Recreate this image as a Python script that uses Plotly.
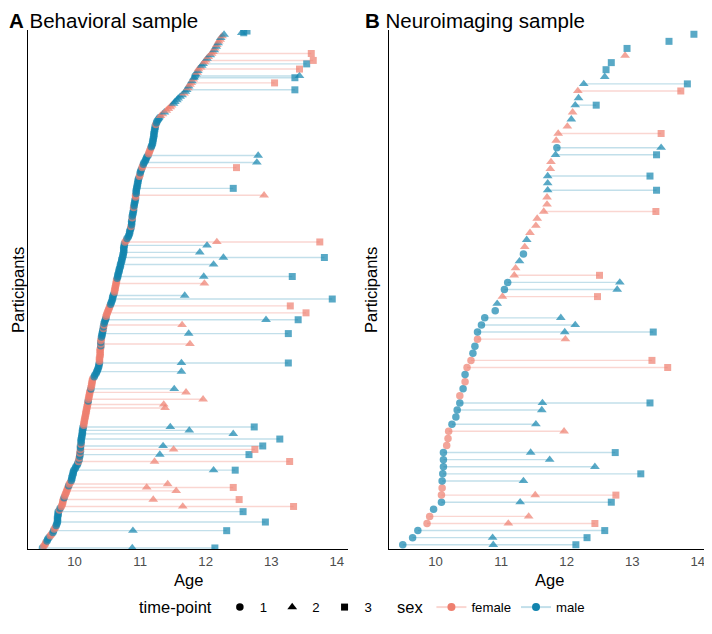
import plotly.graph_objects as go

# ---------------- colours ----------------
FEMALE = "#EE7F6F"
MALE = "#1284AE"
FEMALE_LINE = "rgba(238,127,111,0.32)"
MALE_LINE = "rgba(18,132,174,0.26)"
FONT = "Liberation Sans, Arial, sans-serif"

# ---------------- Panel A: behavioral sample ----------------
# first observed age per participant (sorted bottom -> top)
A_first_age = [
    9.51, 9.53, 9.55, 9.56, 9.58, 9.59, 9.61, 9.63, 9.65, 9.67,
    9.68, 9.69, 9.71, 9.72, 9.73, 9.74, 9.74, 9.74, 9.74, 9.75,
    9.75, 9.75, 9.77, 9.78, 9.80, 9.81, 9.82, 9.82, 9.83, 9.84,
    9.85, 9.86, 9.87, 9.88, 9.89, 9.90, 9.91, 9.92, 9.94, 9.95,
    9.96, 9.96, 9.97, 9.98, 9.98, 9.99, 10.01, 10.02, 10.04, 10.05,
    10.06, 10.07, 10.07, 10.08, 10.08, 10.08, 10.09, 10.09, 10.09, 10.09,
    10.10, 10.10, 10.10, 10.10, 10.11, 10.11, 10.12, 10.12, 10.12, 10.13,
    10.13, 10.14, 10.14, 10.15, 10.15, 10.16, 10.16, 10.17, 10.17, 10.18,
    10.18, 10.19, 10.19, 10.20, 10.20, 10.21, 10.21, 10.22, 10.22, 10.23,
    10.23, 10.24, 10.25, 10.25, 10.26, 10.26, 10.27, 10.27, 10.28, 10.30,
    10.31, 10.33, 10.34, 10.35, 10.36, 10.37, 10.37, 10.38, 10.38, 10.38,
    10.38, 10.39, 10.39, 10.39, 10.39, 10.39, 10.40, 10.40, 10.40, 10.40,
    10.40, 10.41, 10.41, 10.42, 10.42, 10.43, 10.43, 10.44, 10.44, 10.45,
    10.45, 10.46, 10.47, 10.48, 10.48, 10.49, 10.50, 10.51, 10.52, 10.53,
    10.54, 10.55, 10.56, 10.57, 10.58, 10.58, 10.59, 10.60, 10.61, 10.61,
    10.62, 10.62, 10.63, 10.63, 10.64, 10.64, 10.65, 10.66, 10.66, 10.67,
    10.68, 10.68, 10.69, 10.70, 10.70, 10.71, 10.72, 10.72, 10.73, 10.74,
    10.74, 10.75, 10.75, 10.75, 10.75, 10.76, 10.76, 10.77, 10.79, 10.80,
    10.82, 10.83, 10.84, 10.84, 10.85, 10.86, 10.86, 10.87, 10.87, 10.87,
    10.88, 10.88, 10.88, 10.89, 10.89, 10.90, 10.90, 10.90, 10.91, 10.91,
    10.92, 10.92, 10.93, 10.93, 10.93, 10.94, 10.94, 10.94, 10.95, 10.95,
    10.96, 10.96, 10.97, 10.97, 10.98, 10.99, 11.00, 11.00, 11.01, 11.02,
    11.03, 11.04, 11.05, 11.06, 11.08, 11.09, 11.10, 11.12, 11.13, 11.14,
    11.15, 11.16, 11.17, 11.18, 11.19, 11.19, 11.20, 11.20, 11.21, 11.21,
    11.21, 11.22, 11.22, 11.23, 11.23, 11.24, 11.25, 11.26, 11.28, 11.30,
    11.31, 11.34, 11.37, 11.40, 11.43, 11.46, 11.48, 11.51, 11.53, 11.56,
    11.58, 11.61, 11.64, 11.67, 11.69, 11.71, 11.73, 11.74, 11.76, 11.78,
    11.79, 11.81, 11.82, 11.84, 11.85, 11.87, 11.88, 11.89, 11.92, 11.94,
    11.96, 11.98, 12.00, 12.02, 12.04, 12.07, 12.09, 12.11, 12.13, 12.14,
    12.16, 12.17, 12.19, 12.20, 12.22, 12.23, 12.25, 12.28, 12.55, 12.63,
]
# time-point of the first observation (1, 2 or 3)
A_first_tp = (
    "11111111111111111111111111111111111111111111111111"
    "11111111111111111111111111111111111111111111111111"
    "11111111111111111111111111111111111111111111111111"
    "11111111111111111111111111111111111111111111111111"
    "11111111111111111111111111111111111111111111111111"
    "22222222222222222222222122222222222222222222222223"
)
# sex per participant: f = female, m = male
A_sex = (
    "mfffmmmffm" "mffmmmmmmm" "mmfmfffffm" "ffffffmffm" "mmmmmmmmmm"
    "fmfmmfmfmm" "fmmmmmmmmm" "mfffffffff" "fffffmffff" "ffmffffffm"
    "mmmmmmmmff" "fffffffmfm" "ffmmmmmfmf" "mmmmffffff" "fmmmmmmmff"
    "ffffffmmmm" "mmmmmmmmmm" "mmmmmmmffm" "mmmmmmfmmm" "mfmmmmmfmm"
    "mmmffmmmmm" "mmmmmffmmm" "ffmmmmmmff" "ffmmmmmmmm" "mmmmmfmmmm"
    "ffmffffmmm" "mmmfmmfmff" "mfmmmfmffm" "mffmfmffmf" "mfmffmfmmm"
)
# follow-up visits: participant row, age at time-point 2, age at time-point 3
A_fu_row = [0, 10, 15, 21, 24, 28, 33, 35, 37, 45, 50, 54, 57, 59, 63, 66, 68, 70,
            81, 83, 86, 90, 92, 102, 107, 118, 124, 129, 132, 136, 140, 144, 146,
            153, 157, 164, 168, 171, 175, 177, 204, 208, 220, 223, 227, 265, 269,
            272, 273, 277, 280, 282, 286, 298]
A_fu_t2 = [10.88, 10.89, None, None, 11.65, 11.20, 11.55, 11.10, 11.42, 12.12,
           11.22, 11.30, 11.51, 11.35, None, 12.42, 11.75, 11.46, 11.38, 11.36,
           11.96, 11.70, 11.52, 11.63, 11.63, 11.76, 11.74, 11.64, 12.92, None,
           None, None, 11.68, 11.98, 11.97, 12.12, 12.27, 11.91, 12.02, 12.17,
           12.89, None, None, 12.78, 12.80, None, None, None, 13.43, None,
           None, None, None, None]
A_fu_t3 = [12.14, 12.32, 12.91, 12.57, 13.34, 12.51, None, 12.42, None, 12.45,
           13.28, 12.66, 12.75, 12.87, 13.13, None, None, 12.74, None, None,
           None, None, None, None, 13.26, None, 13.26, None, 13.41, 13.53,
           13.29, 13.93, None, None, 13.32, None, 13.81, None, None, 13.74,
           None, 12.42, 12.47, None, None, 13.36, 13.05, 13.36, None, 13.43,
           13.54, 13.64, 13.61, 12.58]

# ---------------- Panel B: neuroimaging sample ----------------
B_first_age = [
    9.50, 9.65, 9.73, 9.87, 9.91, 9.97, 10.09, 10.09, 10.10, 10.10,
    10.11, 10.12, 10.12, 10.12, 10.17, 10.19, 10.20, 10.25, 10.31, 10.33,
    10.37, 10.37, 10.42, 10.45, 10.45, 10.48, 10.54, 10.57, 10.60, 10.64,
    10.64, 10.70, 10.75, 10.91, 10.94, 11.02, 11.05, 11.10, 11.20, 11.22,
    11.28, 11.34, 11.36, 11.39, 11.44, 11.53, 11.55, 11.65, 11.70, 11.70,
    11.71, 11.71, 11.71, 11.75, 11.76, 11.83, 11.85, 11.84, 11.87, 12.01,
    12.07, 12.09, 12.13, 12.18, 12.17, 12.26, 12.58, 12.60, 12.68, 12.89,
    12.92, 13.56, 13.94,
]
B_first_tp = ("1111111111111111111111111111111111" "22" "11" "222" "1"
              "22222222222222" "1" "2222222222" "33" "2" "333")
B_sex = ("mmmffmmffm" "mmmmfffmmm" "mfmfmffmmf" "mmmmmfmmff" "mmfmffffff"
         "mmmffmmfff" "mfmmfmmmmf" "mmm")
B_fu_row = [0, 1, 2, 3, 4, 6, 7, 9, 10, 11, 12, 13, 16, 17, 19, 20, 25, 26, 29, 30,
            31, 32, 35, 36, 37, 38, 47, 50, 52, 55, 56, 58, 62, 64, 65]
B_fu_t2 = [10.88, 10.87, None, 11.11, 11.42, 11.29, 11.52, 11.34, None, 12.43,
           11.74, 11.45, 11.96, 11.53, 11.62, 11.63, None, None, 11.98, 11.97,
           12.13, 11.91, None, 12.77, 12.81, None, None, None, None, None,
           13.44, None, None, None, None]
B_fu_t3 = [12.14, 12.31, 12.58, 12.43, None, 12.68, 12.75, None, 13.13, None,
           None, 12.74, None, None, None, 13.27, 13.54, 13.30, None, 13.32,
           None, None, 12.47, None, None, 12.50, 13.36, 13.37, 13.27, 13.37,
           None, 13.44, 12.45, 13.74, 13.84]

AGE_TICKS = [10, 11, 12, 13, 14]
TP_LABELS = ["1", "2", "3"]
SEX_LABELS = ["female", "male"]

SYMBOL = {1: "circle", 2: "triangle-up", 3: "square"}
SIZE = {1: 7.5, 2: 8.5, 3: 7}
COLOR = {"f": FEMALE, "m": MALE}
LINE_COLOR = {"f": FEMALE_LINE, "m": MALE_LINE}


def build_rows(first_age, first_tp, sex, fu_row, fu_t2, fu_t3):
    extra = {r: (a, b) for r, a, b in zip(fu_row, fu_t2, fu_t3)}
    rows = []
    for i, (age, tp, s) in enumerate(zip(first_age, first_tp, sex)):
        pts = [(int(tp), age)]
        if i in extra:
            t2, t3 = extra[i]
            if t2 is not None:
                pts.append((2, t2))
            if t3 is not None:
                pts.append((3, t3))
        rows.append((s, pts))
    return rows


def panel_traces(rows, xa, ya):
    traces = []
    for s in ("f", "m"):
        xs, ys = [], []
        for i, (sx, pts) in enumerate(rows):
            if sx == s and len(pts) > 1:
                ages = [p[1] for p in pts]
                xs += [min(ages), max(ages), None]
                ys += [i, i, None]
        traces.append(go.Scatter(x=xs, y=ys, mode="lines",
                                 line=dict(color=LINE_COLOR[s], width=1.4),
                                 xaxis=xa, yaxis=ya, showlegend=False,
                                 hoverinfo="skip"))
    mx, my, msym, mcol, msz = [], [], [], [], []
    for i, (sx, pts) in enumerate(rows):
        for tp, age in pts:
            mx.append(age)
            my.append(i)
            msym.append(SYMBOL[tp])
            mcol.append(COLOR[sx])
            msz.append(SIZE[tp])
    traces.append(go.Scatter(x=mx, y=my, mode="markers",
                             marker=dict(symbol=msym, color=mcol, size=msz,
                                         line=dict(width=0)),
                             xaxis=xa, yaxis=ya, showlegend=False))
    return traces


rows_A = build_rows(A_first_age, A_first_tp, A_sex, A_fu_row, A_fu_t2, A_fu_t3)
rows_B = build_rows(B_first_age, B_first_tp, B_sex, B_fu_row, B_fu_t2, B_fu_t3)

fig = go.Figure()
for t in panel_traces(rows_A, "x", "y"):
    fig.add_trace(t)
for t in panel_traces(rows_B, "x2", "y2"):
    fig.add_trace(t)

# legend entries
for k, lab in enumerate(TP_LABELS):
    fig.add_trace(go.Scatter(x=[None], y=[None], mode="markers", name=lab,
                             marker=dict(symbol=SYMBOL[k + 1], color="black",
                                         size=SIZE[k + 1]),
                             legend="legend", showlegend=True))
for s, lab in zip(("f", "m"), SEX_LABELS):
    fig.add_trace(go.Scatter(x=[None], y=[None], mode="lines+markers", name=lab,
                             marker=dict(symbol="circle", color=COLOR[s], size=8),
                             line=dict(color=LINE_COLOR[s], width=2),
                             legend="legend2", showlegend=True))

# The page body has an 8px margin, so the figure is laid out 8px smaller
# and every position below is given in page pixels minus that offset.
W, H = 704, 626
OFF = 8


def fx(px):
    return (px - OFF) / W


def fy(py):
    return 1 - (py - OFF) / H


xdomA = [fx(28), fx(348)]
xdomB = [fx(389), fx(709)]
ydom = [fy(549), fy(30)]
XR = [9.29, 14.17]

TITLE_SIZE = 20.5
AXIS_TITLE_SIZE = 16.5
SMALL_SIZE = 13.2

xcommon = dict(range=XR, tickvals=AGE_TICKS, showline=True, linecolor="black",
               linewidth=1.2, showgrid=False, zeroline=False, ticks="",
               tickfont=dict(size=SMALL_SIZE, color="#4D4D4D", family=FONT),
               automargin=False)
ycommon = dict(showticklabels=False, showline=True, linecolor="black",
               linewidth=1.2, showgrid=False, zeroline=False, ticks="",
               automargin=False)

fig.update_layout(
    width=W, height=H,
    margin=dict(l=0, r=0, t=0, b=0, autoexpand=False),
    paper_bgcolor="white", plot_bgcolor="white",
    font=dict(family=FONT, color="black"),
    xaxis=dict(domain=xdomA, anchor="y", **xcommon),
    yaxis=dict(domain=ydom, anchor="x", range=[-0.6, len(A_first_age) - 0.4], **ycommon),
    xaxis2=dict(domain=xdomB, anchor="y2", **xcommon),
    yaxis2=dict(domain=ydom, anchor="x2", range=[-0.6, len(B_first_age) - 0.4], **ycommon),
    legend=dict(orientation="h", x=129 / W, xanchor="left", y=fy(608),
                yanchor="middle",
                title=dict(text="time-point", font=dict(size=AXIS_TITLE_SIZE)),
                font=dict(size=SMALL_SIZE), itemwidth=30, bgcolor="rgba(0,0,0,0)"),
    legend2=dict(orientation="h", x=387 / W, xanchor="left", y=fy(608),
                 yanchor="middle",
                 title=dict(text="sex", font=dict(size=AXIS_TITLE_SIZE)),
                 font=dict(size=SMALL_SIZE), itemwidth=30, bgcolor="rgba(0,0,0,0)"),
    annotations=[
        dict(text="<b>A</b> Behavioral sample", x=0, y=1,
             xref="paper", yref="paper", xanchor="left", yanchor="top",
             borderpad=0, showarrow=False, font=dict(size=TITLE_SIZE)),
        dict(text="<b>B</b> Neuroimaging sample", x=fx(364), y=1,
             xref="paper", yref="paper", xanchor="left", yanchor="top",
             borderpad=0, showarrow=False, font=dict(size=TITLE_SIZE)),
        dict(text="Participants", x=0, y=fy(290), xref="paper", yref="paper",
             xanchor="left", yanchor="middle", textangle=-90, showarrow=False,
             borderpad=0, font=dict(size=AXIS_TITLE_SIZE)),
        dict(text="Participants", x=fx(371), y=fy(290), xref="paper", yref="paper",
             xanchor="center", yanchor="middle", textangle=-90, showarrow=False,
             font=dict(size=AXIS_TITLE_SIZE)),
        dict(text="Age", x=(xdomA[0] + xdomA[1]) / 2, y=fy(580), xref="paper",
             yref="paper", xanchor="center", yanchor="middle", showarrow=False,
             font=dict(size=AXIS_TITLE_SIZE)),
        dict(text="Age", x=(xdomB[0] + xdomB[1]) / 2, y=fy(580), xref="paper",
             yref="paper", xanchor="center", yanchor="middle", showarrow=False,
             font=dict(size=AXIS_TITLE_SIZE)),
    ],
)

fig.write_html("out.html")
